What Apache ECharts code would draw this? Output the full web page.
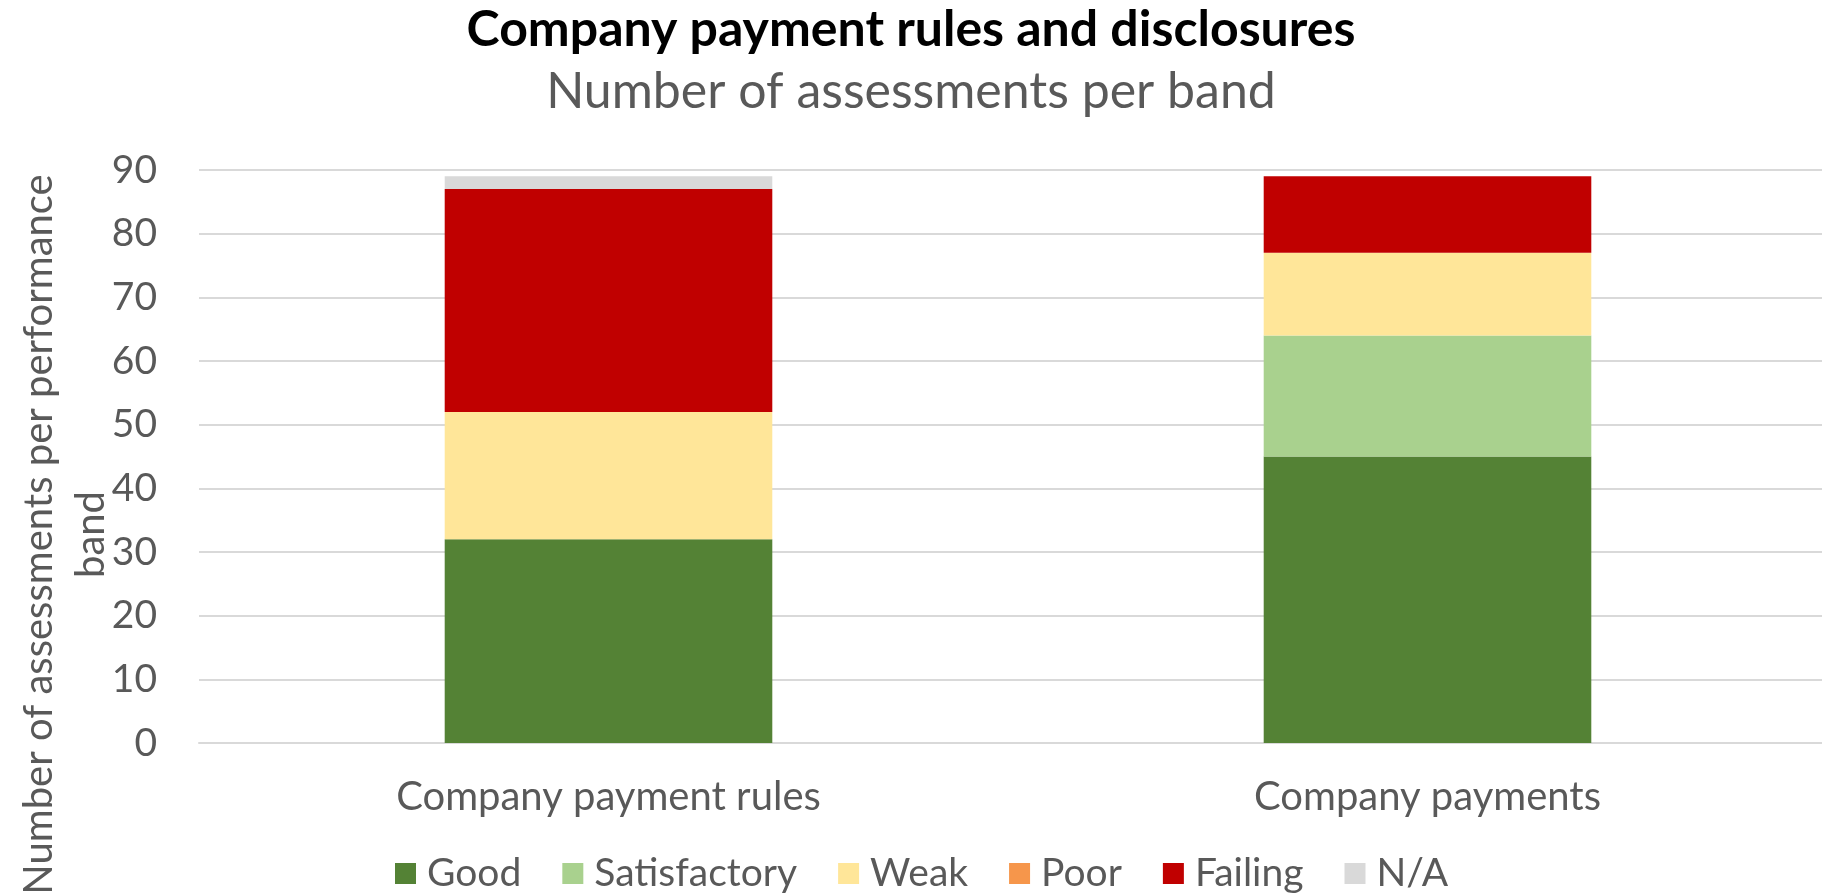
<!DOCTYPE html>
<html>
<head>
<meta charset="utf-8">
<title>Company payment rules and disclosures</title>
<script src="https://cdn.jsdelivr.net/npm/echarts@6/dist/echarts.min.js"></script>
<style>
  html, body { margin: 0; padding: 0; background: #ffffff; }
  #chart { width: 1822px; height: 895px; }
</style>
</head>
<body>
<div id="chart"></div>
<script>
// Assessment categories (x axis)
const categories = ['Company payment rules', 'Company payments'];

// Number of assessments in each performance band, per category
const good          = [32, 45];
const satisfactory  = [0, 19];
const weak          = [20, 13];
const poor          = [0, 0];
const failing       = [35, 12];
const notApplicable = [2, 0];

// Y axis ticks
const yMin = 0;
const yMax = 90;
const yStep = 10;

const bandNames  = ['Good', 'Satisfactory', 'Weak', 'Poor', 'Failing', 'N/A'];
const bandValues = [good, satisfactory, weak, poor, failing, notApplicable];
const bandColors = ['#548235', '#A9D18E', '#FFE699', '#F6964B', '#C00000', '#D9D9D9'];

const FONT = 'Lato, "Open Sans", sans-serif';
const GREY = '#595959';

const chart = echarts.init(document.getElementById('chart'), null, { renderer: 'canvas' });

chart.setOption({
  backgroundColor: '#ffffff',
  animation: false,
  title: {
    text: 'Company payment rules and disclosures',
    subtext: 'Number of assessments per band',
    left: 'center',
    top: 0,
    itemGap: 12,
    textStyle: { fontFamily: FONT, fontSize: 50, fontWeight: 'bold', color: '#000000' },
    subtextStyle: { fontFamily: FONT, fontSize: 50, color: GREY }
  },
  legend: {
    data: bandNames,
    left: 395,
    top: 854,
    padding: 0,
    icon: 'rect',
    itemWidth: 21,
    itemHeight: 21,
    itemGap: 41,
    textStyle: { fontFamily: FONT, fontSize: 39, color: GREY, padding: [0, 0, 0, 6] }
  },
  grid: {
    left: 199,
    right: -15,
    top: 170,
    bottom: 152,
    outerBoundsMode: 'none',
    containLabel: false
  },
  xAxis: {
    type: 'category',
    data: categories,
    axisLine: { show: true, lineStyle: { color: '#D9D9D9', width: 2 } },
    axisTick: { show: false },
    axisLabel: { fontFamily: FONT, fontSize: 40, color: GREY, margin: 34 }
  },
  yAxis: {
    type: 'value',
    min: yMin,
    max: yMax,
    interval: yStep,
    name: 'Number of assessments per performance\nband',
    nameLocation: 'middle',
    nameRotate: 90,
    nameGap: 82,
    nameMoveOverlap: false,
    nameTextStyle: {
      fontFamily: FONT, fontSize: 40, color: GREY, lineHeight: 52,
      padding: [0, 156, 0, 0]
    },
    axisLine: { show: false },
    axisTick: { show: false },
    axisLabel: { fontFamily: FONT, fontSize: 39, color: GREY, margin: 42 },
    splitLine: { show: true, lineStyle: { color: '#D9D9D9', width: 2 } }
  },
  series: bandNames.map((name, i) => ({
    name: name,
    type: 'bar',
    stack: 'bands',
    barWidth: '40%',
    itemStyle: { color: bandColors[i] },
    data: bandValues[i]
  }))
});
</script>
</body>
</html>
